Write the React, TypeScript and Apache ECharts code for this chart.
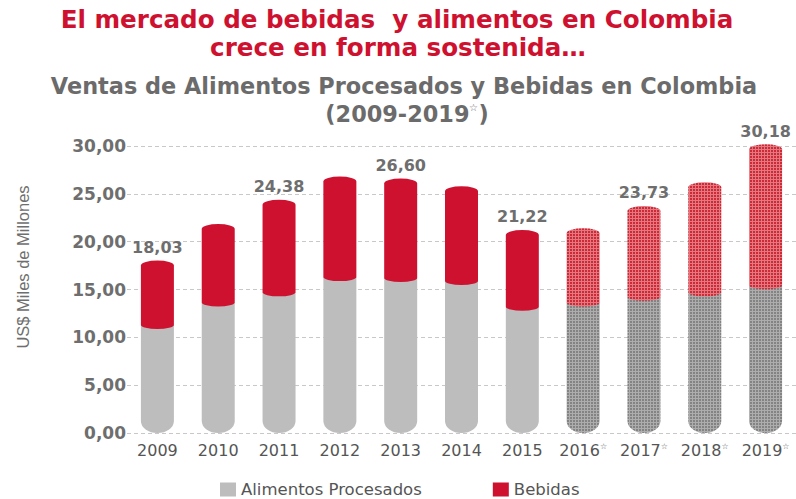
import React, { useEffect, useRef } from "react";
import * as echarts from "echarts";

const years = ["2009", "2010", "2011", "2012", "2013", "2014", "2015", "2016", "2017", "2018", "2019"];
const forecast = [false, false, false, false, false, false, false, true, true, true, true];
const alimentos = [11.3, 13.65, 14.7, 16.3, 16.2, 15.9, 13.2, 13.65, 14.25, 14.7, 15.45];
const bebidas = [6.73, 8.2, 9.68, 10.5, 10.4, 9.9, 8.02, 7.75, 9.48, 11.5, 14.73];
const totalLabels = ["18,03", "", "24,38", "", "26,60", "", "21,22", "", "23,73", "", "30,18"];
const yTicks = { min: 0, max: 30, interval: 5 };

const RED = "#cf1130";
const GRAY = "#bdbdbd";
const FONT = "'DejaVu Sans'";

function makePattern(base: string, light: string) {
  const c = document.createElement("canvas");
  c.width = 3;
  c.height = 3;
  const ctx = c.getContext("2d")!;
  ctx.fillStyle = base;
  ctx.fillRect(0, 0, 3, 3);
  ctx.fillStyle = light;
  ctx.fillRect(2, 0, 1, 3);
  ctx.fillRect(0, 2, 3, 1);
  return { image: c, repeat: "repeat" } as any;
}

export default function App() {
  const ref = useRef<HTMLDivElement>(null);
  useEffect(() => {
    if (!ref.current) return;
    const chart = echarts.init(ref.current, undefined, { renderer: "svg" });
    const redPat = makePattern("#cd2a37", "#e47880");
    const grayPat = makePattern("#838383", "#adadad");
    const BW = 33;

    const renderAlimentos = (params: any, api: any) => {
      const i = api.value(0);
      const top = api.coord([i, api.value(2)]);
      const bot = api.coord([i, api.value(1)]);
      const x0 = top[0] - BW / 2;
      const x1 = x0 + BW;
      const yt = top[1];
      const yb = bot[1];
      const r = 12;
      return {
        type: "path",
        shape: {
          pathData: `M ${x0} ${yt} L ${x1} ${yt} L ${x1} ${yb - r} A ${BW / 2} ${r} 0 0 1 ${x0} ${yb - r} Z`,
          x: x0, y: yt, width: BW, height: yb - yt,
        },
        style: { fill: forecast[i] ? grayPat : GRAY },
      };
    };

    const renderBebidas = (params: any, api: any) => {
      const i = api.value(0);
      const top = api.coord([i, api.value(2)]);
      const bot = api.coord([i, api.value(1)]);
      const x0 = top[0] - BW / 2;
      const x1 = x0 + BW;
      const yt = top[1];
      const yb = bot[1];
      const rc = 5;
      const rb = 4;
      const children: any[] = [
        {
          type: "path",
          shape: {
            pathData: `M ${x0} ${yt + rc} A ${BW / 2} ${rc} 0 0 1 ${x1} ${yt + rc} L ${x1} ${yb} A ${BW / 2} ${rb} 0 0 1 ${x0} ${yb} Z`,
            x: x0, y: yt, width: BW, height: yb + rb - yt,
          },
          style: { fill: forecast[i] ? redPat : RED },
        },
      ];
      if (totalLabels[i]) {
        children.push({
          type: "text",
          style: {
            text: totalLabels[i],
            x: top[0],
            y: yt - 5,
            align: "center",
            verticalAlign: "bottom",
            fill: "#6e6e6e",
            font: `bold 16px ${FONT}`,
          },
        });
      }
      return { type: "group", children };
    };

    chart.setOption({
      animation: false,
      backgroundColor: "#ffffff",
      graphic: [
        {
          type: "text",
          x: 397,
          y: 19,
          style: {
            text: "El mercado de bebidas  y alimentos en Colombia",
            align: "center",
            verticalAlign: "middle",
            fill: RED,
            font: `bold 24.6px ${FONT}`,
          },
        },
        {
          type: "text",
          x: 398,
          y: 47.5,
          style: {
            text: "crece en forma sostenida…",
            align: "center",
            verticalAlign: "middle",
            fill: RED,
            font: `bold 24.6px ${FONT}`,
          },
        },
        {
          type: "text",
          x: 404,
          y: 85.5,
          style: {
            text: "Ventas de Alimentos Procesados y Bebidas en Colombia",
            align: "center",
            verticalAlign: "middle",
            fill: "#6b6b6b",
            font: `bold 22.4px ${FONT}`,
          },
        },
        {
          type: "text",
          x: 407,
          y: 113.5,
          style: {
            text: "(2009-2019{s|☆})",
            rich: { s: { fontSize: 10, verticalAlign: "top", padding: [0, 0, 10, 0] } },
            align: "center",
            verticalAlign: "middle",
            fill: "#6b6b6b",
            font: `bold 22.4px ${FONT}`,
          },
        },
        {
          type: "text",
          x: 23,
          y: 267,
          rotation: Math.PI / 2,
          style: {
            text: "US$ Miles de Millones",
            align: "center",
            verticalAlign: "middle",
            fill: "#6e6e6e",
            font: "16.5px 'Liberation Sans'",
          },
        },
      ],
      legend: {
        left: 215,
        top: 476,
        icon: "rect",
        itemWidth: 16,
        itemHeight: 14,
        itemGap: 71,
        data: [
          { name: "Alimentos Procesados", itemStyle: { color: GRAY } },
          { name: "Bebidas", itemStyle: { color: RED } },
        ],
        textStyle: { color: "#555", fontSize: 16.5, fontFamily: FONT },
      },
      grid: { left: 127, top: 146, width: 674, height: 287 },
      xAxis: {
        type: "category",
        data: years,
        boundaryGap: true,
        axisLine: { show: false },
        axisTick: { show: false },
        axisLabel: {
          interval: 0,
          margin: 9,
          color: "#555",
          fontSize: 16,
          fontFamily: FONT,
          formatter: (v: string, idx: number) => (forecast[idx] ? `${v}{s|☆}` : v),
          rich: { s: { fontSize: 8, verticalAlign: "top", color: "#555", padding: [0, 0, 8, 0] } },
        },
      },
      yAxis: {
        type: "value",
        min: yTicks.min,
        max: yTicks.max,
        interval: yTicks.interval,
        axisLine: { show: false },
        axisTick: { show: false },
        splitLine: { lineStyle: { type: [4, 3], color: "#c8c8c8", width: 1 } },
        axisLabel: {
          margin: 1,
          color: "#6e6e6e",
          fontSize: 17,
          fontWeight: "bold",
          fontFamily: FONT,
          formatter: (v: number) => v.toFixed(2).replace(".", ","),
        },
      },
      series: [
        {
          name: "Alimentos Procesados",
          type: "custom",
          renderItem: renderAlimentos,
          itemStyle: { color: GRAY },
          encode: { x: 0, y: [1, 2] },
          data: years.map((_, i) => [i, 0, alimentos[i]]),
        },
        {
          name: "Bebidas",
          type: "custom",
          renderItem: renderBebidas,
          itemStyle: { color: RED },
          encode: { x: 0, y: [1, 2] },
          data: years.map((_, i) => [i, alimentos[i], alimentos[i] + bebidas[i]]),
        },
      ],
    });
    return () => chart.dispose();
  }, []);
  return (
    <div
      ref={ref}
      style={{ position: "absolute", left: 0, top: 0, width: 796, height: 499 }}
    />
  );
}
